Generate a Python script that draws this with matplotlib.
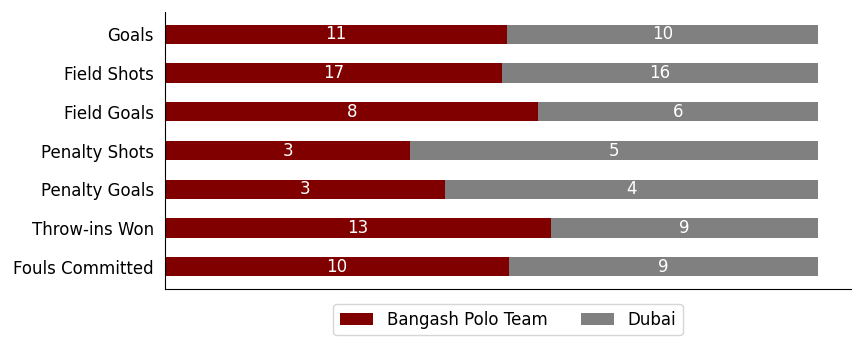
import matplotlib.pyplot as plt
import numpy as np

plt.rcParams['font.family'] = ['DejaVu Sans']

categories = ['Goals', 'Field Shots', 'Field Goals', 'Penalty Shots',
              'Penalty Goals', 'Throw-ins Won', 'Fouls Committed']
bangash = [11, 17, 8, 3, 3, 13, 10]
dubai = [10, 16, 6, 5, 4, 9, 9]

b = np.array(bangash, dtype=float)
d = np.array(dubai, dtype=float)
tot = b + d
bf = b / tot
df_ = d / tot

fig = plt.figure(figsize=(8.64, 3.46), dpi=100)
ax = fig.add_axes([0.191, 0.165, 0.794, 0.8])

y = np.arange(len(categories))
ax.barh(y, bf, height=0.5, color='#800000', label='Bangash Polo Team')
ax.barh(y, df_, left=bf, height=0.5, color='#808080', label='Dubai')

# value labels centred in each segment
for i in range(len(categories)):
    ax.text(bf[i] / 2, y[i], str(bangash[i]), color='white', ha='center', va='center', fontsize=12)
    ax.text(bf[i] + df_[i] / 2, y[i], str(dubai[i]), color='white', ha='center', va='center', fontsize=12)

ax.set_yticks(y)
ax.set_yticklabels(categories, fontsize=12)
ax.invert_yaxis()
ax.set_xlim(0, 1.05)
ax.set_xticks([])
ax.tick_params(axis='y', length=0, pad=8)
ax.spines['top'].set_visible(False)
ax.spines['right'].set_visible(False)

ax.legend(loc='upper center', bbox_to_anchor=(0.5, -0.025), ncol=2, fontsize=12)

plt.savefig('out.png', dpi=100)
